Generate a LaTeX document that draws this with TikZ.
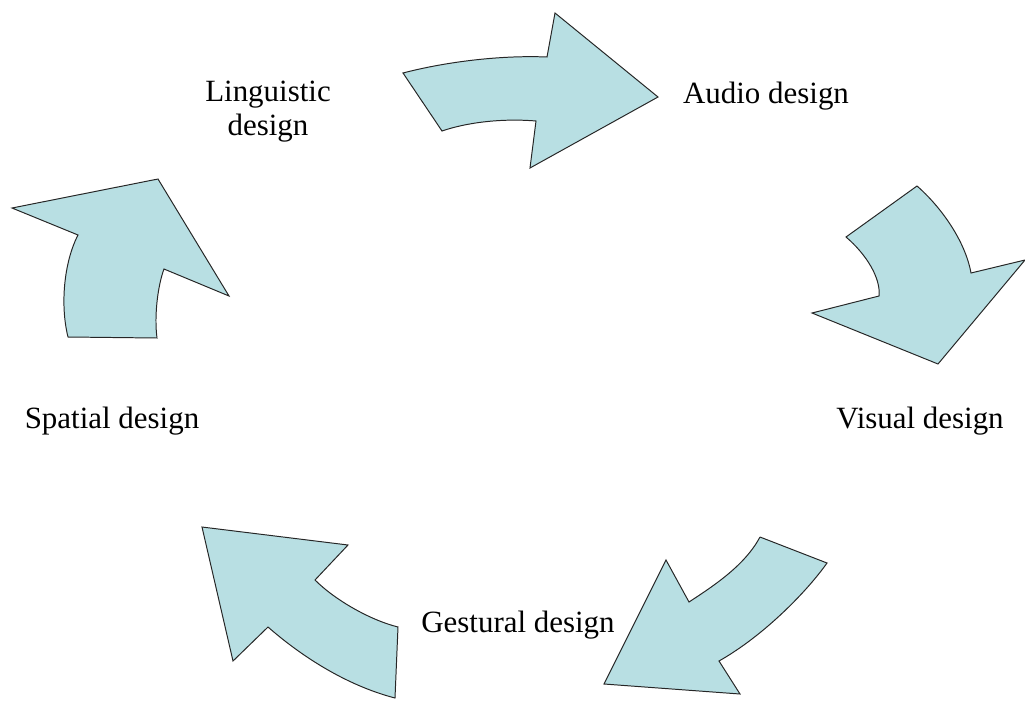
\documentclass[tikz,border=0pt]{standalone}
\usepackage{fontspec}
\setmainfont{Liberation Serif}
\usepackage{tikz}
\usepackage{xcolor}
\definecolor{arrowblue}{RGB}{184,223,227}

\begin{document}
\begin{tikzpicture}[x=0.025cm, y=-0.025cm,
        bigarrow/.style={fill=arrowblue, draw=black!85, line width=0.7pt, line join=miter},
        label/.style={font=\fontsize{22}{23.5}\selectfont, anchor=base, inner sep=0pt}]
        \useasboundingbox (0,0) rectangle (1025,705);
        % Design labels round the cycle
        \node[label, align=center] (linguistic) at (268,135) {Linguistic\\design};
        \node[label] (audio) at (766,103) {Audio design};
        \node[label] (visual) at (920,428) {Visual design};
        \node[label] (gestural) at (518,632) {Gestural design};
        \node[label] (spatial) at (112,428) {Spatial design};
        % Arrow from linguistic to audio
        \draw[bigarrow] (403,73) .. controls (445,62) and (500,55) .. (547,57) -- (555,13)
            -- (658,97) -- (530,168) -- (536,121)
            .. controls (500,118) and (465,123) .. (442,131) -- cycle;
        % Arrow from audio to visual
        \draw[bigarrow] (917,186) .. controls (940,206) and (965,240) .. (971,273)
            -- (1025,260) -- (938,364) -- (812,313) -- (879,296)
            .. controls (881,278) and (866,254) .. (846,237) -- cycle;
        % Arrow from visual to gestural
        \draw[bigarrow] (760,537) -- (827,563) .. controls (808,590) and (765,635) .. (719,661)
            -- (740,694) -- (604,684) -- (666,560) -- (689,602)
            .. controls (715,585) and (745,565) .. (760,537);
        % Arrow from gestural to spatial
        \draw[bigarrow] (202,527) -- (348,545) -- (315,580)
            .. controls (335,600) and (370,620) .. (398,627) -- (395,698)
            .. controls (345,685) and (300,655) .. (268,627) -- (233,661) -- cycle;
        % Arrow from spatial to linguistic
        \draw[bigarrow] (12,208) -- (158,179) -- (229,296) -- (164,269)
            .. controls (158,285) and (154,315) .. (157,338) -- (68,337)
            .. controls (60,305) and (64,262) .. (78,235) -- cycle;
    \end{tikzpicture}
\end{document}
